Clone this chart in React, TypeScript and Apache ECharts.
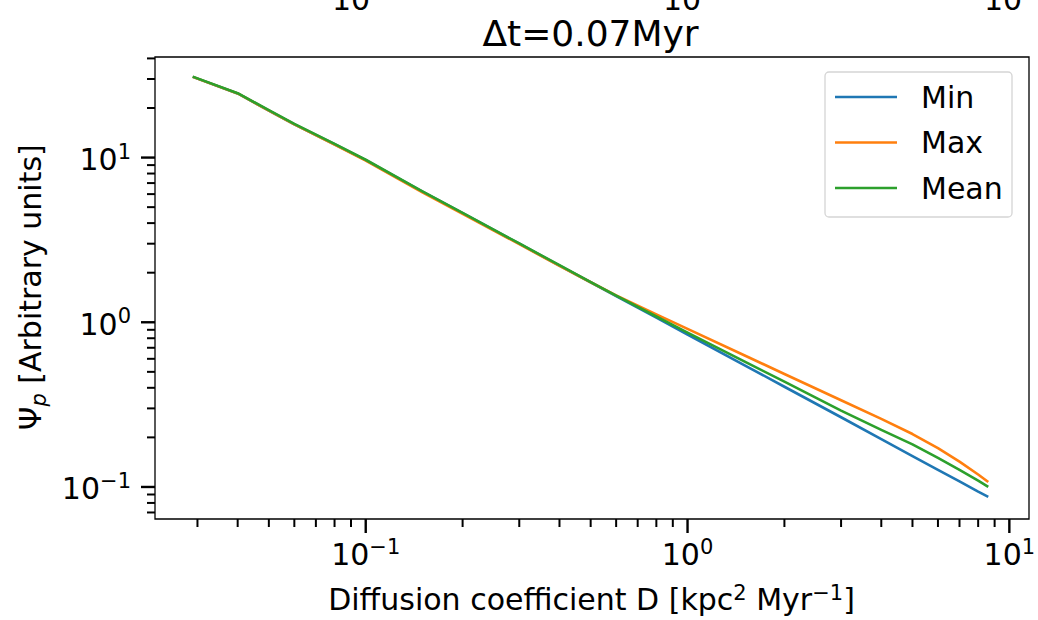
import React, { useEffect, useRef } from "react";
import * as echarts from "echarts";

// ---- data ----
const D = [0.029, 0.04, 0.05, 0.06, 0.08, 0.1, 0.15, 0.2, 0.3, 0.4, 0.5, 0.6, 0.8, 1.0, 1.5, 2, 3, 4, 5, 6, 7, 8, 8.6];
const minVals = [30.9, 24.5, 19.3, 15.9, 12.05, 9.66, 6.22, 4.6, 3.0, 2.21, 1.75, 1.44, 1.066, 0.843, 0.55, 0.406, 0.265, 0.195, 0.154, 0.127, 0.108, 0.0936, 0.0871];
const maxVals = [30.9, 24.5, 19.3, 15.9, 12.0, 9.6, 6.15, 4.55, 2.98, 2.2, 1.75, 1.455, 1.117, 0.912, 0.631, 0.485, 0.336, 0.259, 0.2096, 0.1721, 0.1426, 0.1191, 0.1072];
const meanVals = [31.0, 24.6, 19.4, 16.0, 12.1, 9.7, 6.24, 4.62, 3.01, 2.22, 1.755, 1.45, 1.084, 0.865, 0.579, 0.436, 0.291, 0.222, 0.1815, 0.15, 0.127, 0.1092, 0.1001];
const seriesNames = ["Min", "Max", "Mean"];
const seriesColors = ["#1f77b4", "#ff7f0e", "#2ca02c"];

const xRange = [0.02214, 11.51];
const yRange = [0.0639, 40.8];
const xMajor = [0.1, 1, 10];
const xMajorExp = ["\u22121", "0", "1"];
const xMinor = [0.03, 0.04, 0.05, 0.06, 0.07, 0.08, 0.09, 0.2, 0.3, 0.4, 0.5, 0.6, 0.7, 0.8, 0.9, 2, 3, 4, 5, 6, 7, 8, 9];
const yMajor = [0.1, 1, 10];
const yMajorExp = ["\u22121", "0", "1"];
const yMinor = [0.07, 0.08, 0.09, 0.2, 0.3, 0.4, 0.5, 0.6, 0.7, 0.8, 0.9, 2, 3, 4, 5, 6, 7, 8, 9, 20, 30, 40];

const titleText = "\u0394t=0.07Myr";
const topCutLabels = ["10", "10", "10"];
const xLabelParts: [string, boolean][] = [
  ["Diffusion coefficient D [kpc", false],
  ["2", true],
  [" Myr", false],
  ["\u22121", true],
  ["]", false],
];
const yLabelParts: [string, boolean][] = [
  ["\u03A8", false],
  ["p", true],
  [" [Arbitrary units]", false],
];

// ---- layout ----
const W = 1038;
const H = 620;
const G = { left: 155, top: 57, width: 874, height: 462 };
const FONT = "DejaVu Sans";
const FS = 30;
const SUP = 21;
const TITLE_FS = 36;
const LW_SERIES = 2.6;

export default function App() {
  const ref = useRef<HTMLDivElement>(null);
  useEffect(() => {
    const chart = echarts.init(ref.current!, null, { renderer: "svg" });
    const pairs = (vals: number[]) => D.map((d, i) => [d, vals[i]]);
    const allVals = [minVals, maxVals, meanVals];
    chart.setOption({
      animation: false,
      grid: { ...G, show: true, borderColor: "#000", borderWidth: 1.3, backgroundColor: "transparent" },
      xAxis: {
        type: "log", logBase: 10, min: xRange[0], max: xRange[1],
        axisLine: { show: false }, axisTick: { show: false }, axisLabel: { show: false }, splitLine: { show: false },
      },
      yAxis: {
        type: "log", logBase: 10, min: yRange[0], max: yRange[1],
        axisLine: { show: false }, axisTick: { show: false }, axisLabel: { show: false }, splitLine: { show: false },
      },
      series: seriesNames.map((n, i) => ({
        name: n, type: "line", data: pairs(allVals[i]), symbol: "none", showSymbol: false,
        lineStyle: { color: seriesColors[i], width: LW_SERIES, join: "round", cap: "butt" }, itemStyle: { color: seriesColors[i] },
      })),
    });

    const ctx = document.createElement("canvas").getContext("2d")!;
    const tw = (s: string, size: number, italic = false) => {
      ctx.font = `${italic ? "italic " : ""}${size}px '${FONT}'`;
      return ctx.measureText(s).width;
    };
    const px = (v: number) => chart.convertToPixel({ xAxisIndex: 0 }, v) as number;
    const py = (v: number) => chart.convertToPixel({ yAxisIndex: 0 }, v) as number;
    const txt = (text: string, x: number, y: number, size: number, align = "left", extra: any = {}) => ({
      type: "text", x, y, silent: true,
      style: { text, fontSize: size, fontFamily: FONT, fill: "#000", align, verticalAlign: "middle", lineHeight: size, ...extra },
    });
    const line = (x1: number, y1: number, x2: number, y2: number, w: number) => ({
      type: "line", silent: true, shape: { x1, y1, x2, y2 }, style: { stroke: "#000", lineWidth: w },
    });

    const gfx: any[] = [];
    const bottom = G.top + G.height;
    const left = G.left;
    // ticks
    xMajor.forEach((v) => { const x = px(v); gfx.push(line(x, bottom, x, bottom + 14, 2.4)); });
    xMinor.forEach((v) => { const x = px(v); gfx.push(line(x, bottom, x, bottom + 8, 2.0)); });
    yMajor.forEach((v) => { const y = py(v); gfx.push(line(left - 14, y, left, y, 2.4)); });
    yMinor.forEach((v) => { const y = py(v); gfx.push(line(left - 8, y, left, y, 2.0)); });

    // x tick labels
    const w10 = tw("10", FS);
    xMajor.forEach((v, i) => {
      const x = px(v);
      const ws = tw(xMajorExp[i], SUP);
      const x0 = x - (w10 + ws) / 2;
      gfx.push(txt("10", x0, 554, FS));
      gfx.push(txt(xMajorExp[i], x0 + w10, 547, SUP));
    });
    // y tick labels
    yMajor.forEach((v, i) => {
      const y = py(v);
      const ws = tw(yMajorExp[i], SUP);
      const r = 131;
      gfx.push(txt(yMajorExp[i], r, y - 6, SUP, "right"));
      gfx.push(txt("10", r - ws, y + 2, FS, "right"));
    });

    // x axis label
    const xw = xLabelParts.map(([s, sup]) => tw(s, sup ? SUP : FS));
    const xTot = xw.reduce((a, b) => a + b, 0);
    let cx = 591.5 - xTot / 2;
    xLabelParts.forEach(([s, sup], i) => {
      gfx.push(txt(s, cx, sup ? 593 : 599, sup ? SUP : FS));
      cx += xw[i];
    });

    // y axis label (rotated)
    const yw = yLabelParts.map(([s, sub]) => tw(s, sub ? SUP : FS, sub));
    const yTot = yw.reduce((a, b) => a + b, 0);
    let lx = -yTot / 2;
    const yChildren: any[] = [];
    yLabelParts.forEach(([s, sub], i) => {
      yChildren.push(txt(s, lx, sub ? 8.5 : 0, sub ? SUP : FS, "left", sub ? { fontStyle: "italic" } : {}));
      lx += yw[i];
    });
    gfx.push({ type: "group", x: 30.5, y: 287.2, rotation: Math.PI / 2, children: yChildren });

    // title
    gfx.push(txt(titleText, 590.5, 33.5, TITLE_FS, "center"));
    // cut-off labels of the panel above
    const topXs = [351, 682, 1003];
    topCutLabels.forEach((s, i) => gfx.push(txt(s, topXs[i], -0.5, FS, "center")));

    // legend
    const LX = 825, LY = 72, LWd = 187, LH = 145;
    gfx.push({
      type: "rect", z: 10, silent: true, shape: { x: LX, y: LY, width: LWd, height: LH, r: 4 },
      style: { fill: "rgba(255,255,255,0.8)", stroke: "#d5d5d5", lineWidth: 1.3 },
    });
    const rowY = [97, 142.5, 188];
    seriesNames.forEach((n, i) => {
      gfx.push({ ...line(835, rowY[i], 897, rowY[i], LW_SERIES), z: 11, style: { stroke: seriesColors[i], lineWidth: LW_SERIES } });
      gfx.push({ ...txt(n, 921, rowY[i], FS), z: 11 });
    });

    chart.setOption({ graphic: gfx });
    return () => chart.dispose();
  }, []);
  return <div ref={ref} style={{ position: "fixed", left: 0, top: 0, width: W, height: H, background: "#fff" }} />;
}
